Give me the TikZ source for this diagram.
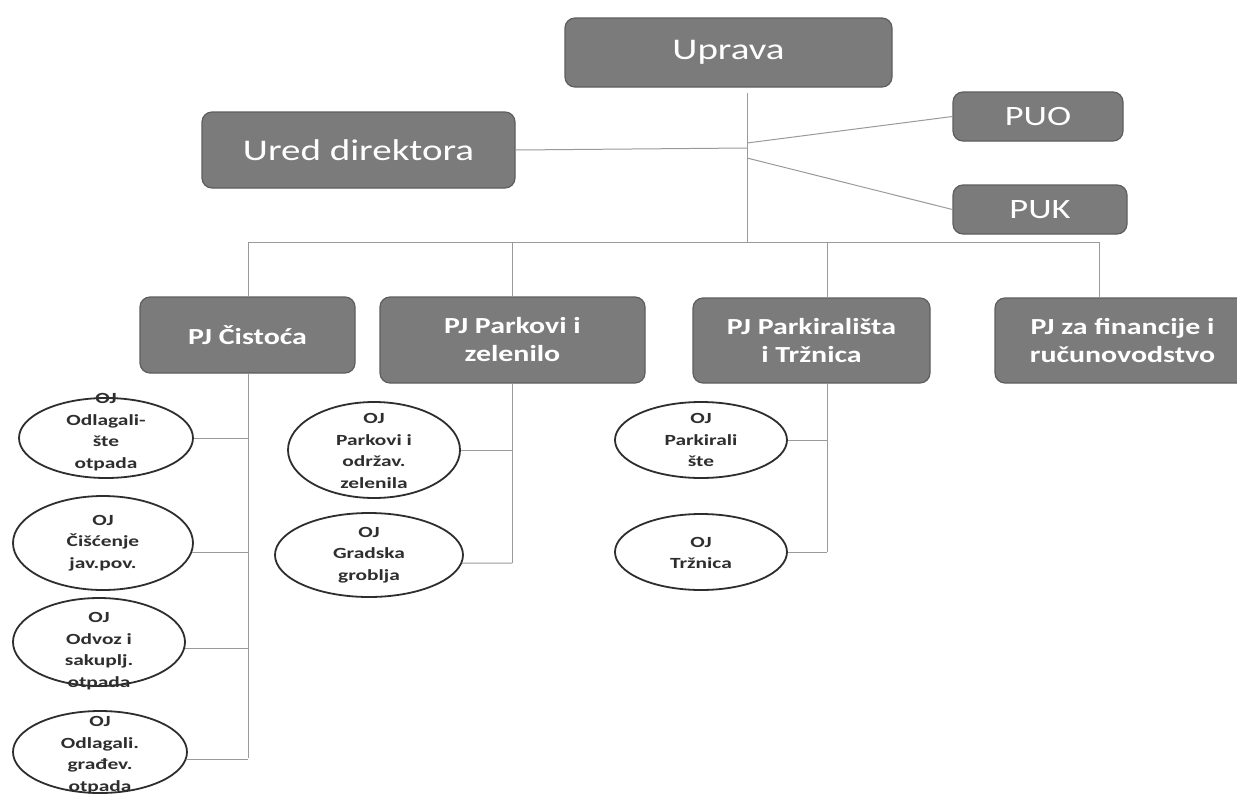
\documentclass[tikz,border=0pt]{standalone}
\usepackage{fontspec}
\setmainfont{Carlito}
\newfontfamily\boxfont{Carlito}[FakeStretch=1.3]
\newfontfamily\boldboxfont{Carlito Bold}[FakeStretch=1.3]
\newfontfamily\ovalfont{Carlito Bold}[FakeStretch=1.38]
\usetikzlibrary{shapes.geometric}
\definecolor{boxgray}{HTML}{7B7B7B}
\definecolor{boxedge}{HTML}{5E5E5E}
\definecolor{linegray}{HTML}{9A9A9A}
\definecolor{ovaledge}{HTML}{2E2E2E}
\definecolor{ovaltext}{HTML}{2E2E2E}
\begin{document}
\begin{tikzpicture}[x=1pt,y=-1pt,
  box/.style={draw=boxedge, line width=1.2pt, fill=boxgray, rounded corners=10pt,
    text=white, align=center, inner sep=0pt,
    font=\boldboxfont\fontsize{23}{28}\selectfont},
  bigbox/.style={box, font=\boxfont\fontsize{30}{36}\selectfont},
  midbox/.style={box, font=\boxfont\fontsize{28}{32}\selectfont},
  oval/.style={ellipse, draw=ovaledge, line width=1.8pt, fill=white, inner sep=0pt},
  ovaltxt/.style={align=center, text=ovaltext, inner sep=0pt,
    font=\ovalfont\fontsize{15.5}{21.5}\selectfont},
  conn/.style={draw=linegray, line width=1pt}]
\useasboundingbox (0,0) rectangle (1237,793);
\fill[white] (0,0) rectangle (1237,793);
\clip (0,0) rectangle (1237,793);

% top level boxes
\node[bigbox, minimum width=327pt, minimum height=69pt] (upr) at (728.5,52.5) {Uprava};
\node[bigbox, minimum width=313pt, minimum height=76pt] (ured) at (358.5,150) {Ured direktora};
\node[midbox, minimum width=170pt, minimum height=49pt] (puo) at (1038,116.5) {PUO};
\node[midbox, minimum width=174pt, minimum height=49pt] (puk) at (1040,209.5) {PUK};

% PJ boxes
\node[box, minimum width=215pt, minimum height=76pt] (cis) at (247.5,335) {PJ Čistoća};
\node[box, minimum width=265pt, minimum height=86pt] (park) at (512.5,340) {PJ Parkovi i\\zelenilo};
\node[box, minimum width=237pt, minimum height=85pt] (pkt) at (811.5,340.5) {PJ Parkirališta\\i Tržnica};
\node[box, minimum width=255pt, minimum height=85pt] (fin) at (1122.5,340.5) {PJ za financije i\\ručunovodstvo};

% hub coordinates
\coordinate (vtop) at (747,93);
\coordinate (hU) at (747,148);
\coordinate (hO) at (747,143);
\coordinate (hK) at (747,158);
\coordinate (busL) at (248,242);
\coordinate (busM) at (747,242);
\coordinate (busR) at (1099,242);

\draw[conn] (vtop) -- (busM);
\draw[conn] (ured.east) -- (hU);
\draw[conn] (hO) -- (puo.west);
\draw[conn] (hK) -- (puk.west);
\draw[conn] (busL) -- (busR);
\draw[conn] (busL) -- (busL |- cis.north);
\draw[conn] (busL -| park.north) -- (park.north);
\draw[conn] (827,242) -- (827,298);
\draw[conn] (busR) -- (busR |- fin.north);

% OJ ovals - Cistoca
\node[oval, minimum width=174pt, minimum height=80pt] (c1) at (106,438) {};
\node[ovaltxt] (c1t) at (106,432) {OJ\\Odlagali-\\šte\\otpada};
\node[oval, minimum width=180pt, minimum height=94pt] (c2) at (103,543) {};
\node[ovaltxt] (c2t) at (103,543) {OJ\\Čišćenje\\jav.pov.};
\node[oval, minimum width=172pt, minimum height=88pt] (c3) at (99,642) {};
\node[ovaltxt] (c3t) at (99,651) {OJ\\Odvoz i\\sakuplj.\\otpada};
\node[oval, minimum width=174pt, minimum height=82pt] (c4) at (100,752) {};
\node[ovaltxt] (c4t) at (100,755) {OJ\\Odlagali.\\građev.\\otpada};

\coordinate (cisv) at (248,758);
\draw[conn] (cis.south -| cisv) -- (cisv);
\draw[conn] (c1.east) -- (c1.east -| cisv);
\draw[conn] (c2.-6) -- (c2.-6 -| cisv);
\draw[conn] (c3.-4) -- (c3.-4 -| cisv);
\draw[conn] (c4.-5) -- (c4.-5 -| cisv);

% OJ ovals - Parkovi
\node[oval, minimum width=172pt, minimum height=96pt] (p1) at (374,450) {};
\node[ovaltxt] (p1t) at (374,451) {OJ\\Parkovi i\\održav.\\zelenila};
\node[oval, minimum width=188pt, minimum height=84pt] (p2) at (369,555) {};
\node[ovaltxt] (p2t) at (369,555) {OJ\\Gradska\\groblja};

\coordinate (parkv) at (512,563);
\draw[conn] (park.south -| parkv) -- (parkv);
\draw[conn] (p1.east) -- (p1.east -| parkv);
\draw[conn] (p2.-5) -- (parkv);

% OJ ovals - Parkiralista
\node[oval, minimum width=172pt, minimum height=76pt] (k1) at (701,440) {};
\node[ovaltxt] (k1t) at (701,440) {OJ\\Parkirali\\šte};
\node[oval, minimum width=172pt, minimum height=76pt] (k2) at (701,552) {};
\node[ovaltxt] (k2t) at (701,553) {OJ\\Tržnica};

\coordinate (pktv) at (827,552);
\draw[conn] (pkt.south -| pktv) -- (pktv);
\draw[conn] (k1.east) -- (k1.east -| pktv);
\draw[conn] (k2.east) -- (pktv);
\end{tikzpicture}
\end{document}
